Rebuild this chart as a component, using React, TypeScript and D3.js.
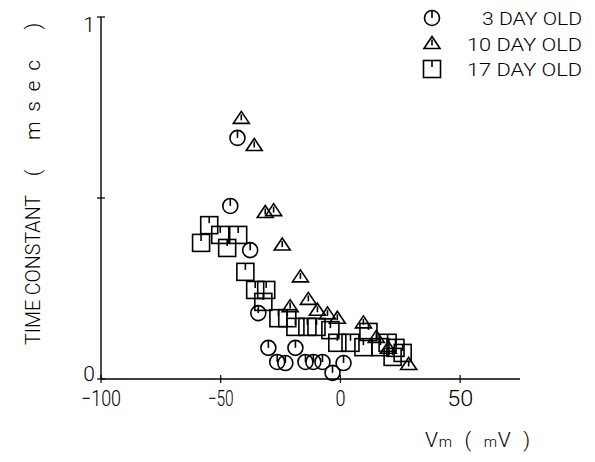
import React from 'react';
import * as d3 from 'd3';

// values: [Vm (mV), time constant (msec)]
const day3: [number, number][] = [
  [-43, 0.666], [-46, 0.478], [-37.7, 0.356], [-34.3, 0.182],
  [-30.1, 0.086], [-18.8, 0.086], [-26.4, 0.047], [-23, 0.044],
  [-14.6, 0.047], [-11.3, 0.047], [-7.5, 0.047], [-3.3, 0.017],
  [1.3, 0.044],
];
const day10: [number, number][] = [
  [-41.4, 0.72], [-36, 0.645], [-31.4, 0.46], [-27.9, 0.465],
  [-24.3, 0.37], [-16.7, 0.282], [-13.4, 0.22], [-9.6, 0.19],
  [-21, 0.2], [-5.4, 0.18], [-1.3, 0.168], [9.6, 0.155],
  [15, 0.115], [20, 0.085], [28.5, 0.04],
];
const day17: [number, number][] = [
  [-54.8, 0.425], [-58.2, 0.376], [-50.2, 0.398], [-42.7, 0.398],
  [-47.3, 0.362], [-39.7, 0.296], [-35.6, 0.246], [-31, 0.246],
  [-32.2, 0.213], [-25.9, 0.168], [-22.2, 0.168], [-18.8, 0.144],
  [-13.8, 0.144], [-10, 0.144], [-4.2, 0.135], [-1.3, 0.1],
  [4.2, 0.1], [9.6, 0.088], [11.7, 0.13], [16.7, 0.088],
  [19.7, 0.1], [23, 0.086], [26, 0.072], [21.8, 0.061],
];
const xTicks = [-100, -50, 0, 50];
const yTicks = [0, 0.5, 1];
const yTickLabels = ['0', '', '1'];
const legendLabels = ['3 DAY OLD', '10 DAY OLD', '17 DAY OLD'];

const W = 595;
const H = 462;
const font = 'Roboto, "DejaVu Sans Condensed", sans-serif';
const sw = 1.6;

const x = d3.scaleLinear().domain([-100, 75]).range([101, 520]);
const y = d3.scaleLinear().domain([0, 1]).range([379, 17]);

const Circle = ({ cx, cy }: { cx: number; cy: number }) => (
  <g transform={`translate(${cx},${cy})`}>
    <circle r={7.5} fill="none" stroke="#000" strokeWidth={sw} />
    <line x1={0} y1={-7.5} x2={0} y2={0} stroke="#000" strokeWidth={sw} />
  </g>
);

const Tri = ({ cx, cy }: { cx: number; cy: number }) => (
  <g transform={`translate(${cx},${cy})`}>
    <path d="M0,-7L8,5L-8,5Z" fill="none" stroke="#000" strokeWidth={sw} />
    <line x1={0} y1={-4} x2={0} y2={2} stroke="#000" strokeWidth={sw} />
  </g>
);

const Square = ({ cx, cy }: { cx: number; cy: number }) => (
  <g transform={`translate(${cx},${cy})`}>
    <rect x={-8.5} y={-8.5} width={17} height={17} fill="none" stroke="#000" strokeWidth={sw} />
    <line x1={0} y1={-8.5} x2={0} y2={-2} stroke="#000" strokeWidth={sw} />
  </g>
);

const markers = [Circle, Tri, Square];

export default function App() {
  return (
    <svg width={W} height={H} style={{ position: 'absolute', left: 0, top: 0, background: '#fff' }}
      fontFamily={font} fontWeight={300}>
      {/* axes */}
      <line x1={x(-100)} y1={y(0)} x2={x(75)} y2={y(0)} stroke="#000" strokeWidth={1.4} />
      <line x1={x(-100)} y1={y(0)} x2={x(-100)} y2={y(1)} stroke="#000" strokeWidth={1.4} />
      {xTicks.map(t => (
        <g key={t}>
          <line x1={x(t)} x2={x(t)} y1={y(0) - 4} y2={y(0) + 4} stroke="#000" strokeWidth={1.2} />
          <text x={x(t)} y={y(0) + 27} fontSize={22} textAnchor="middle"
            textLength={t === -100 ? 40 : t === 0 ? 10 : 26} lengthAdjust="spacingAndGlyphs">
            {t === 0 ? '0' : String(t).replace('-', '\u2212')}
          </text>
        </g>
      ))}
      {yTicks.map((t, i) => (
        <g key={t}>
          <line x1={x(-100) - 4} x2={x(-100) + 4} y1={y(t)} y2={y(t)} stroke="#000" strokeWidth={1.2} />
          <text x={x(-100) - 6} y={y(t) + (t === 0 ? 2 : 15)} fontSize={21} textAnchor="end">{yTickLabels[i]}</text>
        </g>
      ))}

      {/* axis titles */}
      <g fontSize={21} textAnchor="middle">
        <text transform="translate(40,270) rotate(-90)" textLength={150}
          lengthAdjust="spacingAndGlyphs">TIME CONSTANT</text>
        <text transform="translate(40,173) rotate(-90)">(</text>
        <text transform="translate(40,100) rotate(-90)" textLength={80} lengthAdjust="spacing">msec</text>
        <text transform="translate(40,26) rotate(-90)">)</text>
      </g>
      <text x={425} y={447} fontSize={21} style={{ whiteSpace: 'pre' }}
        textLength={105} lengthAdjust="spacing">
        {'V'}<tspan fontSize={15}>m</tspan>{'  (  '}<tspan fontSize={15}>m</tspan>{'V  )'}
      </text>

      {/* data */}
      {day3.map((d, i) => <Circle key={`a${i}`} cx={x(d[0])} cy={y(d[1])} />)}
      {day10.map((d, i) => <Tri key={`b${i}`} cx={x(d[0])} cy={y(d[1])} />)}
      {day17.map((d, i) => <Square key={`c${i}`} cx={x(d[0])} cy={y(d[1])} />)}

      {/* legend */}
      {legendLabels.map((l, i) => {
        const M = markers[i];
        const ly = 18 + i * 25.5;
        return (
          <g key={l}>
            <M cx={432} cy={ly} />
            <text x={582} y={ly + 7} fontSize={19} textAnchor="end"
              textLength={i === 0 ? 100 : 115} lengthAdjust="spacingAndGlyphs">{l}</text>
          </g>
        );
      })}
    </svg>
  );
}
